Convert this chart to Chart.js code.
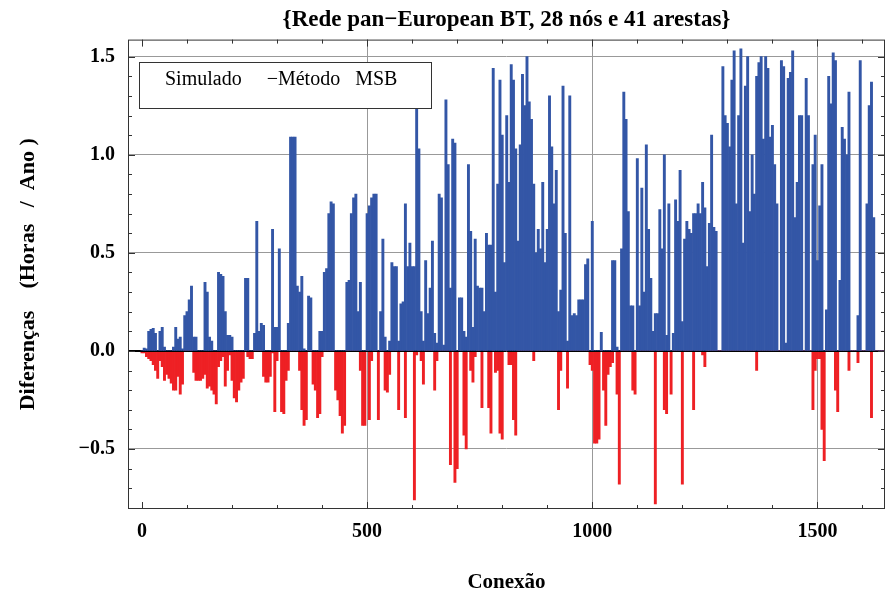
<!DOCTYPE html>
<html>
<head>
<meta charset="utf-8">
<script src="https://cdn.jsdelivr.net/npm/chart.js@4.4.1/dist/chart.umd.min.js"></script>
<style>
  html, body { margin: 0; padding: 0; background: #fff; }
  #wrap { width: 886px; height: 593px; }
</style>
</head>
<body>
<div id="wrap"><canvas id="diffChart" width="886" height="593"></canvas></div>
<script>
// Differences per connection, grouped in bins of 5 connections
const binSize = 5;

// positive differences (blue), one value per bin
const gains = [
  0, 0.015, 0.01, 0.1, 0.11, 0.115, 0.09, 0, 0.1, 0.12,
  0.02, 0, 0, 0, 0.02, 0.12, 0.06, 0.07, 0.01, 0.18,
  0.2, 0.26, 0.33, 0.07, 0.07, 0, 0, 0, 0.35, 0.3,
  0.07, 0.05, 0, 0, 0.4, 0.39, 0.38, 0.2, 0.08, 0.08,
  0.07, 0, 0, 0, 0, 0, 0.37, 0.37, 0, 0,
  0.09, 0.66, 0.1, 0.14, 0.13, 0, 0, 0, 0.62, 0.12,
  0.12, 0.52, 0, 0, 0, 0.14, 1.09, 1.09, 1.09, 0.33,
  0.3, 0.38, 0.01, 0, 0.28, 0.27, 0, 0, 0, 0.1,
  0.1, 0.4, 0.42, 0.7, 0.76, 0.75, 0, 0, 0, 0,
  0, 0.35, 0.36, 0.7, 0.78, 0.8, 0.2, 0.35, 0, 0,
  0.7, 0.74, 0.78, 0.8, 0.8, 0, 0.2, 0.57, 0.07, 0,
  0.05, 0.45, 0.43, 0.43, 0.05, 0.24, 0.25, 0.75, 0.43, 0.55,
  0.43, 0.43, 1.25, 1.03, 0.2, 0.05, 0.46, 0.19, 0.32, 0.56,
  0.09, 0.04, 0.8, 0.78, 0.03, 1.28, 0.95, 0.32, 1.08, 1.06,
  0, 0.27, 0.27, 0.1, 0.07, 0.95, 0.61, 0.12, 0.57, 0.33,
  0.32, 0.32, 0.2, 0.6, 0.54, 0.54, 1.44, 0.3, 0.85, 1.38,
  1.1, 0.45, 1.2, 0.86, 1.46, 1.38, 1.03, 0.56, 1.05, 1.41,
  1.25, 1.5, 1.27, 1.18, 0.85, 0.5, 0.62, 0.52, 0.86, 0.45,
  0.62, 1.3, 1.04, 0.75, 0.92, 0.2, 0.31, 1.35, 0.6, 0.05,
  1.3, 0.18, 0.19, 0.18, 0.26, 0.26, 0.26, 0.44, 0.47, 0,
  0.66, 0, 0, 0, 0.095, 0, 0, 0, 0, 0.46,
  0.46, 0.02, 0, 0.52, 1.32, 1.18, 0.71, 0.23, 0.23, 0,
  0.98, 0.23, 0.83, 0.3, 1.05, 0.62, 0.37, 0.1, 0.19, 0.19,
  0.72, 0.52, 1.0, 0.08, 0.75, 0, 0.09, 0.77, 0.66, 0.92,
  0.15, 0.57, 0.66, 0.62, 0.6, 0.7, 0.7, 0.75, 0.7, 0.86,
  0.73, 0.43, 0.65, 1.1, 0.63, 0.61, 0, 0, 1.45, 1.2,
  1.16, 1.04, 1.38, 1.53, 0.75, 1.2, 1.54, 0.55, 1.35, 1.5,
  0.71, 1.0, 0.8, 1.4, 1.47, 1.5, 1.08, 1.5, 1.44, 1.09,
  1.15, 0.95, 0.75, 0, 1.48, 1.45, 0.04, 1.39, 1.42, 1.53,
  0.68, 0.86, 1.2, 1.2, 0, 1.39, 1.2, 0, 0.95, 1.1,
  0.46, 0.74, 0.95, 0, 0.21, 1.4, 1.26, 1.52, 1.48, 0,
  0.36, 1.14, 1.08, 1.0, 1.32, 0, 0, 0, 0.18, 1.48,
  0, 0, 0.75, 1.25, 1.37, 0.68, 0, 0, 0, 0
];

// negative differences (red), one value per bin
const losses = [
  -0.01, -0.01, -0.03, -0.04, -0.05, -0.07, -0.1, -0.14, -0.05, -0.08,
  -0.15, -0.12, -0.14, -0.165, -0.2, -0.2, -0.13, -0.22, -0.17, 0,
  0, 0, 0, -0.11, -0.15, -0.15, -0.15, -0.14, -0.12, -0.19,
  -0.18, -0.2, -0.22, -0.27, -0.08, -0.05, -0.03, -0.18, -0.1, -0.02,
  -0.15, -0.24, -0.26, -0.2, -0.16, -0.14, 0, -0.03, -0.04, -0.04,
  0, 0, 0, 0, -0.13, -0.16, -0.16, -0.13, -0.01, -0.31,
  -0.05, 0, -0.31, -0.32, -0.15, -0.1, 0, 0, 0, 0,
  -0.1, -0.3, -0.38, -0.35, 0, 0, -0.17, -0.2, -0.34, -0.32,
  -0.03, 0, 0, 0, 0, 0, -0.2, -0.25, -0.33, -0.42,
  -0.38, 0, 0, 0, 0, 0, 0, -0.1, -0.38, -0.38,
  0, -0.35, -0.05, 0, 0, -0.35, 0, 0, -0.2, -0.21,
  -0.12, 0, 0, 0, -0.3, 0, 0, -0.34, 0, 0,
  0, -0.76, -0.02, 0, -0.05, -0.17, 0, 0, 0, 0,
  -0.2, -0.05, 0, 0, 0, 0, 0, -0.58, 0, -0.67,
  -0.6, 0, 0, -0.43, -0.5, 0, -0.1, -0.16, -0.03, 0,
  0, -0.29, 0, 0, -0.29, -0.42, 0, -0.11, -0.1, -0.42,
  -0.45, 0, 0, -0.07, -0.07, -0.35, -0.43, 0, 0, 0,
  0, 0, 0, 0, -0.05, 0, 0, 0, 0, 0,
  0, 0, 0, 0, 0, -0.3, -0.1, 0, 0, -0.19,
  0, 0, 0, 0, 0, 0, 0, 0, 0, -0.07,
  -0.1, -0.47, -0.47, -0.45, 0, -0.2, -0.38, -0.12, -0.08, -0.06,
  0, -0.22, -0.68, 0, 0, 0, 0, 0, -0.2, -0.22,
  0, 0, 0, 0, 0, 0, 0, 0, -0.78, 0,
  0, 0, -0.3, -0.32, 0, -0.22, 0, 0, 0, 0,
  -0.68, 0, 0, 0, 0, -0.3, 0, 0, 0, -0.02,
  -0.08, 0, 0, 0, 0, 0, 0, 0, 0, 0,
  0, 0, 0, 0, 0, 0, 0, 0, 0, 0,
  0, 0, 0, -0.1, 0, 0, 0, 0, 0, 0,
  0, 0, 0, 0, 0, 0, 0, 0, 0, 0,
  0, 0, 0, 0, 0, 0, 0, 0, -0.3, -0.1,
  -0.04, -0.04, -0.4, -0.56, 0, 0, 0, 0, -0.2, -0.31,
  0, 0, 0, 0, -0.1, 0, 0, 0, -0.06, 0,
  0, 0, 0, 0, -0.34, 0, 0, 0, 0, 0
];

const xTicks = [0, 500, 1000, 1500];
const yTicks = [-0.5, 0, 0.5, 1.0, 1.5];

const toPoints = arr => arr.map((v, i) => ({ x: i * binSize, y: v }));

// frame, inner ticks, zero axis and legend box
const framePlugin = {
    id: 'frame',
    afterDatasetsDraw(chart) {
        const { ctx, chartArea: a, scales: { x, y } } = chart;
        ctx.save();
        ctx.lineWidth = 1;

        const y0 = Math.round(y.getPixelForValue(0)) + 0.5;
        ctx.strokeStyle = '#000';
        ctx.beginPath();
        ctx.moveTo(a.left, y0);
        ctx.lineTo(a.right, y0);
        ctx.stroke();

        ctx.strokeStyle = '#333';
        ctx.strokeRect(a.left + 0.5, a.top + 0.5, a.width - 1, a.height - 1);

        ctx.beginPath();
        for (let k = -8; k <= 15; k++) {
            const py = Math.round(y.getPixelForValue(k / 10)) + 0.5;
            const len = k % 5 === 0 ? 7 : 4;
            ctx.moveTo(a.left, py); ctx.lineTo(a.left + len, py);
            ctx.moveTo(a.right, py); ctx.lineTo(a.right - len, py);
        }
        for (let k = 0; k <= 16; k++) {
            const px = Math.round(x.getPixelForValue(k * 100)) + 0.5;
            const len = k % 5 === 0 ? 7 : 4;
            ctx.moveTo(px, a.bottom); ctx.lineTo(px, a.bottom - len);
            ctx.moveTo(px, a.top); ctx.lineTo(px, a.top + len);
        }
        ctx.stroke();

        // legend
        ctx.fillStyle = '#fff';
        ctx.fillRect(139, 62, 292, 46);
        ctx.strokeStyle = '#333';
        ctx.strokeRect(139.5, 62.5, 292, 46);
        ctx.fillStyle = '#000';
        ctx.font = '20px "Liberation Serif", serif';
        ctx.textBaseline = 'alphabetic';
        ctx.fillText('Simulado     \u2212M\u00e9todo   MSB', 165, 85);
        ctx.restore();
    }
};

const ctx = document.getElementById('diffChart').getContext('2d');
new Chart(ctx, {
    type: 'bar',
    data: {
        datasets: [{
            label: 'Simulado',
            data: toPoints(gains),
            backgroundColor: '#3356a6'
        }, {
            label: 'Método MSB',
            data: toPoints(losses),
            backgroundColor: '#ee2024'
        }]
    },
    options: {
        responsive: false,
        animation: false,
        datasets: { bar: { grouped: false, barPercentage: 1, categoryPercentage: 1 } },
        layout: { padding: { left: 0, right: 1, top: 0, bottom: 0 } },
        plugins: {
            legend: { display: false },
            tooltip: { enabled: false },
            title: {
                display: true,
                fullSize: false,
                text: '{Rede pan\u2212European BT, 28 n\u00f3s e 41 arestas}',
                color: '#000',
                font: { family: '"Liberation Serif", serif', size: 23, weight: 'bold' },
                padding: { top: 6, bottom: 6 }
            }
        },
        scales: {
            x: {
                type: 'linear',
                offset: false,
                min: -31,
                max: 1650,
                afterBuildTicks: s => { s.ticks = xTicks.map(v => ({ value: v })); },
                afterFit: s => { s.height = 84; },
                grid: {
                    offset: false,
                    drawTicks: false,
                    color: c => (c.tick && c.tick.value === 0) ? 'rgba(0,0,0,0)' : '#999'
                },
                border: { display: false },
                ticks: {
                    padding: 11,
                    color: '#000',
                    maxRotation: 0,
                    font: { family: '"Liberation Serif", serif', size: 20, weight: 'bold' },
                    callback: v => String(v)
                },
                title: {
                    display: true,
                    text: 'Conex\u00e3o',
                    color: '#000',
                    font: { family: '"Liberation Serif", serif', size: 21, weight: 'bold' },
                    padding: { top: 0, bottom: -2 }
                }
            },
            y: {
                min: -0.806,
                max: 1.587,
                afterBuildTicks: s => { s.ticks = yTicks.map(v => ({ value: v })); },
                afterFit: s => { s.width = 128; },
                grid: {
                    drawTicks: false,
                    color: c => (c.tick && c.tick.value === 0) ? '#000' : '#999'
                },
                border: { display: false },
                ticks: {
                    padding: 13,
                    color: '#000',
                    font: { family: '"Liberation Serif", serif', size: 20, weight: 'bold' },
                    callback: v => v.toFixed(1).replace('-', '\u2212')
                },
                title: {
                    display: true,
                    text: 'Diferen\u00e7as    (Horas   /  Ano )',
                    color: '#000',
                    font: { family: '"Liberation Serif", serif', size: 22, weight: 'bold' },
                    padding: { top: 15, bottom: 0 }
                }
            }
        }
    },
    plugins: [framePlugin]
});
</script>
</body>
</html>
